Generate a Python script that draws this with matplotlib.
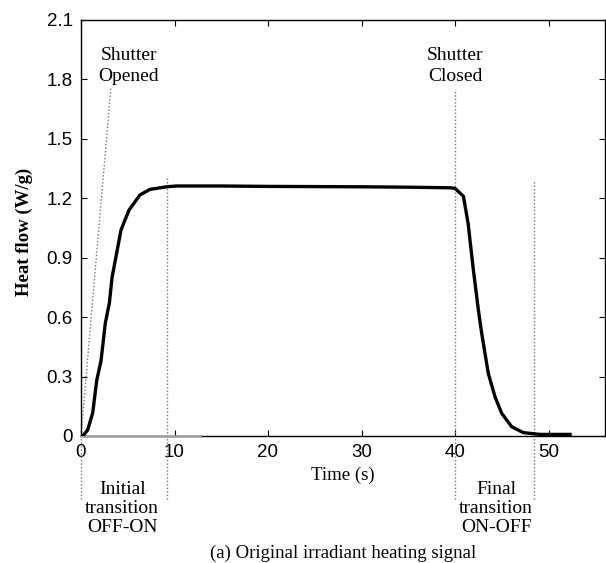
import matplotlib
matplotlib.use("Agg")
import matplotlib.pyplot as plt

# Heat flow signal
time_s = [0.0, 0.18, 0.71, 1.25, 1.68, 2.14, 2.6, 3.03, 3.32, 4.28, 5.13, 6.31, 7.38,
          9.16, 10.2, 15, 20, 25, 30, 35, 39.5, 40.0, 40.9, 41.4, 41.96, 42.5, 42.85,
          43.56, 44.28, 45.0, 46.06, 47.3, 49.1, 52.3]
heat_flow = [0.0, 0.0, 0.03, 0.116, 0.28, 0.38, 0.57, 0.67, 0.8, 1.04, 1.14, 1.217, 1.245,
             1.258, 1.262, 1.262, 1.26, 1.259, 1.258, 1.256, 1.253, 1.25, 1.21, 1.074, 0.84,
             0.636, 0.52, 0.316, 0.198, 0.114, 0.047, 0.017, 0.008, 0.008]

xticks = [0, 10, 20, 30, 40, 50]
yticks = [0, 0.3, 0.6, 0.9, 1.2, 1.5, 1.8, 2.1]
ytick_labels = ["0", "0.3", "0.6", "0.9", "1.2", "1.5", "1.8", "2.1"]

# Event markers
opened_line_x = [0.0, 3.2]
opened_line_y = [0.0, 1.76]
marker_x = [0.0, 9.2, 40.0, 48.5]
marker_top = [0.0, 1.31, 1.75, 1.29]
marker_bottom = -0.32

fig = plt.figure(figsize=(6.06, 5.63), dpi=100)
ax = fig.add_axes([81/606, 1-436/563, (604.6-81)/606, (436-20)/563])

serif = "Liberation Serif"
sans = "Liberation Sans"

# gray segment along baseline
ax.plot([0, 12.7], [0, 0], color="#a0a0a0", lw=1.8, clip_on=False, zorder=3)

ax.plot(time_s, heat_flow, color="black", lw=2.4, solid_joinstyle="round", zorder=4)

dot_kw = dict(color="#777777", lw=1.0, ls=(0, (1, 1.5)), clip_on=False, zorder=2)
ax.plot(opened_line_x, opened_line_y, **dot_kw)
for x, top in zip(marker_x, marker_top):
    ax.plot([x, x], [marker_bottom, top], **dot_kw)

ax.set_xlim(0, 56)
ax.set_ylim(0, 2.1)
ax.set_xticks(xticks)
ax.set_xticklabels([str(t) for t in xticks], fontfamily=sans, fontsize=13.5)
ax.set_yticks(yticks)
ax.set_yticklabels(ytick_labels, fontfamily=sans, fontsize=13.5)
ax.tick_params(direction="in", length=4, width=0.8, top=True, right=True)
ax.tick_params(axis="y", pad=6)
ax.tick_params(axis="x", pad=6)
for s in ax.spines.values():
    s.set_linewidth(1.0)

ax.set_xlabel("Time (s)", fontfamily=serif, fontsize=13.5)
ax.xaxis.set_label_coords(0.5, -(475 - 436) / 416, transform=ax.transAxes)
ax.xaxis.label.set_va("center")
ax.set_ylabel("Heat flow (W/g)", fontfamily=serif, fontsize=13.5, fontweight="bold")
ax.yaxis.set_label_coords((24 - 81) / 523.6, (436 - 232) / 416)
ax.yaxis.label.set_va("center")

tkw = dict(fontfamily=serif, fontsize=14, ha="center", va="center")
ax.text(5.1, 1.868, "Shutter\nOpened", linespacing=1.3, **tkw)
ax.text(40.0, 1.868, "Shutter\nClosed", linespacing=1.3, **tkw)
ax.text(4.4, -0.365, "Initial\ntransition\nOFF-ON", clip_on=False, linespacing=1.15, **tkw)
ax.text(44.4, -0.365, "Final\ntransition\nON-OFF", clip_on=False, linespacing=1.15, **tkw)

fig.text(343/606, 1-553/563, "(a) Original irradiant heating signal", fontfamily=serif,
         fontsize=13.5, ha="center", va="center")

fig.savefig("out.png", dpi=100)
